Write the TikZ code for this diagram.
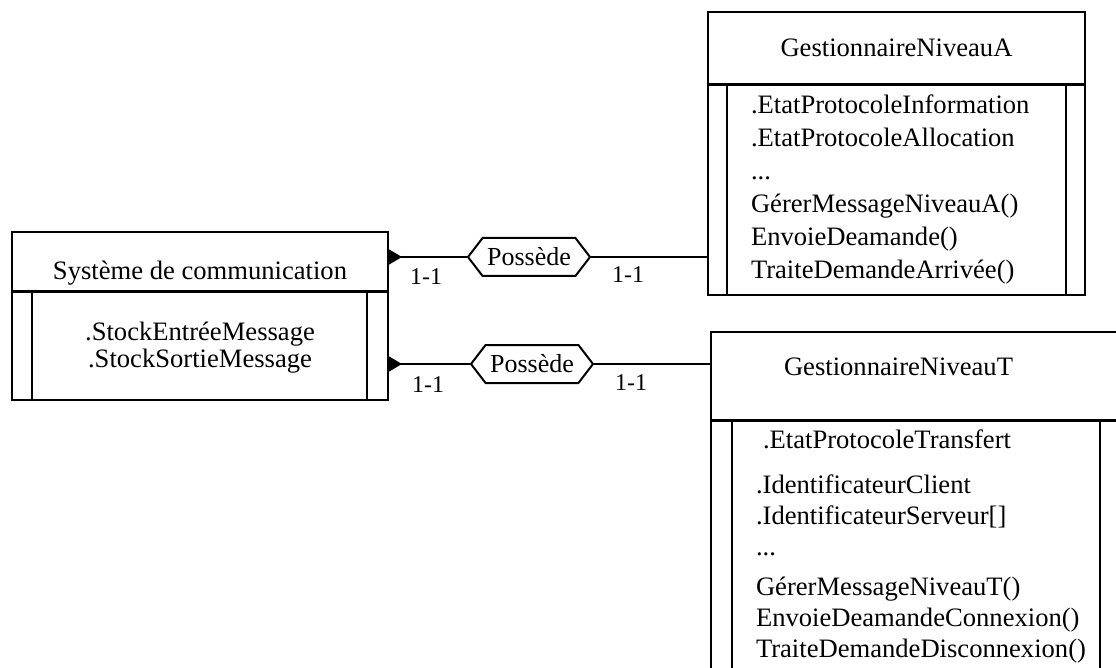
\documentclass[tikz,border=0pt]{standalone}
\usepackage{fontspec}
\setmainfont{Liberation Serif}
\usetikzlibrary{positioning, arrows.meta, shapes.symbols}

\begin{document}
\begin{tikzpicture}[
        x=1pt, y=-1pt,
        line width=2pt,
        frame/.style={draw, inner sep=0pt, outer sep=0pt},
        sep/.style={line width=3pt},
        title/.style={inner sep=0pt, font=\fontsize{26.6}{30}\selectfont},
        attr/.style={
            inner sep=0pt, anchor=north west, align=left,
            font=\fontsize{26.6}{33}\selectfont
        },
        rel/.style={
            draw, signal, signal to=east and west,
            signal pointer angle=105,
            minimum width=122pt, minimum height=38pt, inner sep=1pt,
            font=\fontsize{26}{30}\selectfont
        },
        card/.style={inner sep=0pt, font=\fontsize{24}{28}\selectfont},
        own/.style={{Triangle[reversed, length=14pt, width=16pt]}-}
    ]

    \clip (0,0) rectangle (1116,668);

    % Systeme de communication
    \node[frame, minimum width=376pt, minimum height=60pt] (sysh)
        at (200,262) {};
    \node[frame, minimum width=376pt, minimum height=108pt,
          below=0pt of sysh] (sysb) {};
    \draw[sep] (sysh.south west) -- (sysh.south east);
    \draw ([xshift=20pt]sysb.north west) -- ([xshift=20pt]sysb.south west);
    \draw ([xshift=-21pt]sysb.north east) -- ([xshift=-21pt]sysb.south east);
    \node[title] (syst) at ([yshift=-41pt]sysh.north)
        {Système de communication};
    \node[attr, anchor=north, align=center,
          font=\fontsize{26.6}{27}\selectfont] (sysa)
        at ([yshift=-28.7pt]sysb.north)
        {.StockEntréeMessage\\.StockSortieMessage};

    % GestionnaireNiveauA
    \node[frame, minimum width=377pt, minimum height=73pt] (gAh)
        at (896.5,48.5) {};
    \node[frame, minimum width=377pt, minimum height=210pt,
          below=0pt of gAh] (gAb) {};
    \draw[sep] (gAh.south west) -- (gAh.south east);
    \draw ([xshift=19pt]gAb.north west) -- ([xshift=19pt]gAb.south west);
    \draw ([xshift=-19pt]gAb.north east) -- ([xshift=-19pt]gAb.south east);
    \node[title] (gAt) at ([yshift=-36pt]gAh.north) {GestionnaireNiveauA};
    \node[attr] (gAa) at ([xshift=42pt, yshift=-8.7pt]gAb.north west)
        {.EtatProtocoleInformation\\
         .EtatProtocoleAllocation\\
         ...\\
         GérerMessageNiveauA()\\
         EnvoieDeamande()\\
         TraiteDemandeArrivée()};

    % GestionnaireNiveauT
    \node[frame, minimum width=409pt, minimum height=88pt] (gTh)
        at (915.5,376) {};
    \node[frame, minimum width=409pt, minimum height=270pt,
          below=0pt of gTh] (gTb) {};
    \draw[sep] (gTh.south west) -- (gTh.south east);
    \draw ([xshift=21pt]gTb.north west) -- ([xshift=21pt]gTb.south west);
    \draw ([xshift=-20pt]gTb.north east) -- ([xshift=-20pt]gTb.south east);
    \node[title] (gTt) at ([xshift=-17pt, yshift=-35pt]gTh.north)
        {GestionnaireNiveauT};
    \node[attr, font=\fontsize{26.6}{31}\selectfont] (gTa)
        at ([xshift=44pt, yshift=-8.7pt]gTb.north west)
        {\hspace*{7pt}.EtatProtocoleTransfert\\[14pt]
         .IdentificateurClient\\
         .IdentificateurServeur[]\\
         ...\\[9pt]
         GérerMessageNiveauT()\\
         EnvoieDeamandeConnexion()\\
         TraiteDemandeDisconnexion()};

    % relations
    \node[rel] (rA) at (529,257) {Possède};
    \node[rel] (rT) at (532,364) {Possède};

    \draw[own] (sysh.east |- rA.west) -- (rA.west);
    \draw (rA.east) -- (gAb.west |- rA.east);
    \draw[own] (sysb.east |- rT.west) -- (rT.west);
    \draw (rT.east) -- (gTh.west |- rT.east);

    \node[card] (cA1) at (426,277) {1-1};
    \node[card] (cA2) at (628,275) {1-1};
    \node[card] (cT1) at (428,385) {1-1};
    \node[card] (cT2) at (631,383) {1-1};

\end{tikzpicture}
\end{document}
